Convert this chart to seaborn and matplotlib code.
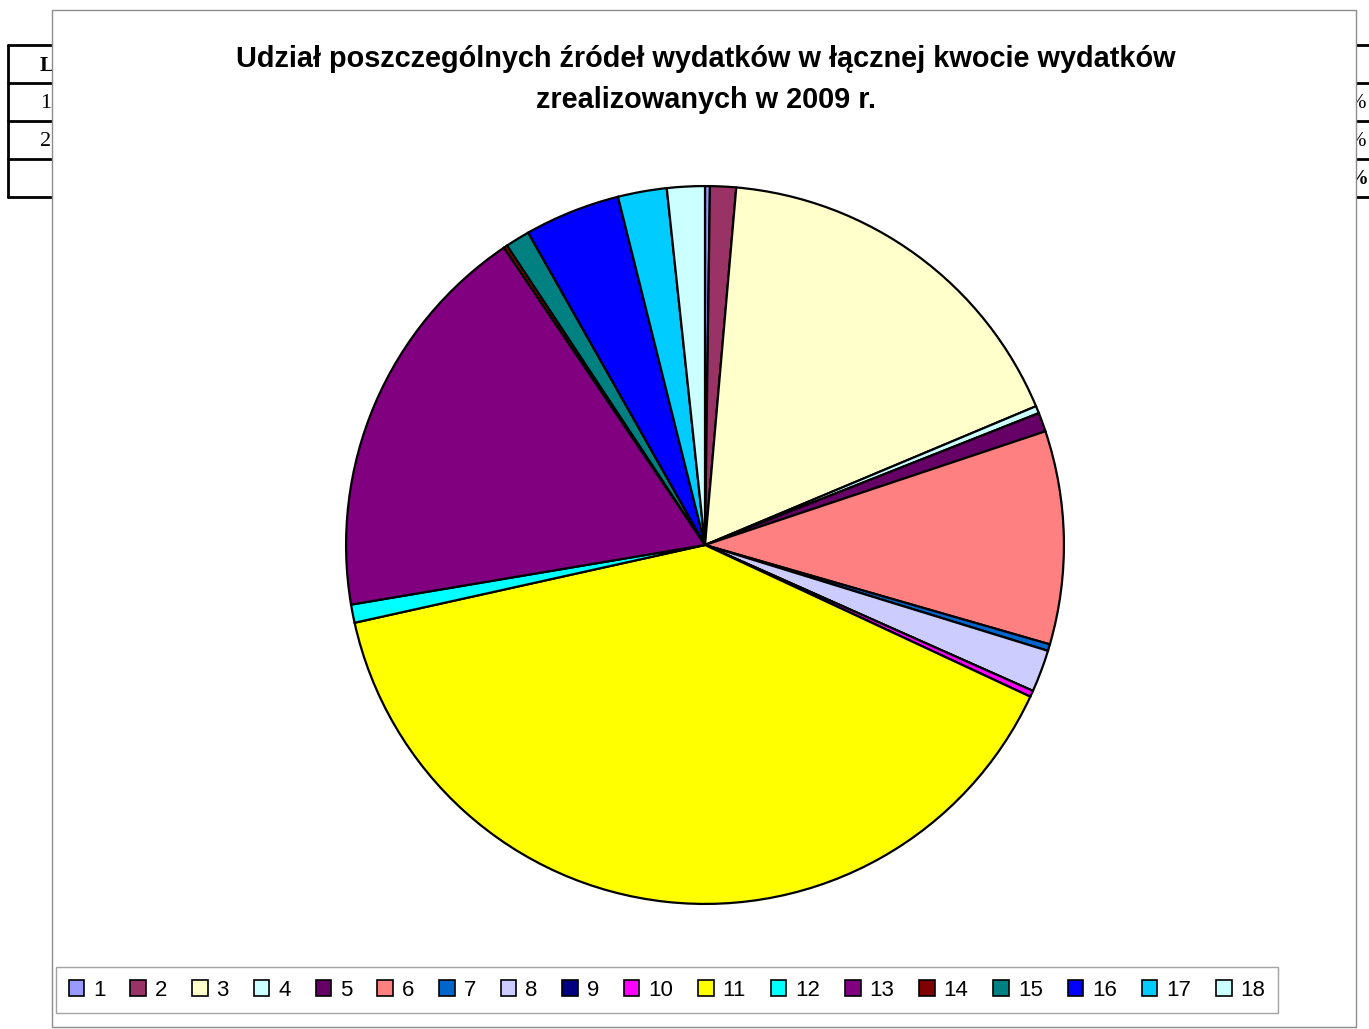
import seaborn as sns
import matplotlib.pyplot as plt
from matplotlib.patches import Patch, Rectangle
from matplotlib.lines import Line2D

# udzialy zrodel wydatkow (%)
labels = [str(i) for i in range(1, 19)]
shares = [0.22, 1.17, 17.3, 0.33, 0.86, 9.6, 0.3, 1.9, 0.0, 0.28,
          39.6, 0.82, 18.2, 0.17, 1.1, 4.3, 2.2, 1.7]
colors = ['#9999FF', '#993366', '#FFFFCC', '#CCFFFF', '#660066', '#FF8080',
          '#0066CC', '#CCCCFF', '#000080', '#FF00FF', '#FFFF00', '#00FFFF',
          '#800080', '#800000', '#008080', '#0000FF', '#00CCFF', '#CCFFFF']
title = "Udział poszczególnych źródeł wydatków w łącznej kwocie wydatków\nzrealizowanych w 2009 r."

sns.set_style('white')
plt.rcParams['font.family'] = ['Liberation Sans', 'DejaVu Sans']
plt.rcParams['text.color'] = 'black'

W, H = 1369, 1029
fig = plt.figure(figsize=(W / 100, H / 100), dpi=100)

def fx(x):
    return x / W

def fy(y):
    return 1 - y / H

# tabela w tle dokumentu (czesciowo zakryta)
for y in [45, 83, 121, 159, 197]:
    fig.add_artist(Line2D([fx(8), fx(60)], [fy(y), fy(y)], color='black', lw=2, zorder=2))
    fig.add_artist(Line2D([fx(1340), fx(1369)], [fy(y), fy(y)], color='black', lw=2, zorder=2))
fig.add_artist(Line2D([fx(8), fx(8)], [fy(45), fy(197)], color='black', lw=2, zorder=2))
for txt, y, w in [("Lp.", 66, 'bold'), ("1.", 103, 'normal'), ("2.", 141, 'normal')]:
    fig.text(fx(40), fy(y), txt, family='Liberation Serif', fontsize=16, fontweight=w,
             ha='left', va='center', zorder=2)
for y, w in [(103, 'normal'), (141, 'normal'), (179, 'bold')]:
    fig.text(fx(1348), fy(y), "%", family='Liberation Serif', fontsize=15, fontweight=w,
             ha='left', va='center', zorder=2)

# obszar wykresu
fig.add_artist(Rectangle((fx(52), fy(1027)), fx(1356) - fx(52), fy(10) - fy(1027),
                         facecolor='white', edgecolor='#8c8c8c', lw=1, zorder=5))

# kolo
R = 360
cx, cy = 705, 545
ax = fig.add_axes([fx(cx - R), fy(cy + R), 2 * R / W, 2 * R / H])
ax.set_zorder(10)
ax.pie(shares, colors=colors, startangle=90, counterclock=False,
       wedgeprops=dict(edgecolor='black', linewidth=1.6))
ax.set_xlim(-1.003, 1.003)
ax.set_ylim(-1.003, 1.003)
ax.set_aspect('equal')
ax.axis('off')

fig.text(fx(706), fy(79.5), title, ha='center', va='center', fontsize=20.8,
         fontweight='bold', linespacing=1.55, color='black', zorder=12)

handles = [Patch(facecolor=c, edgecolor='black', linewidth=1.2) for c in colors]
leg = fig.legend(handles, labels, ncol=18, loc='center',
                 bbox_to_anchor=(fx(667), fy(990)), fontsize=16,
                 frameon=True, fancybox=False, edgecolor='#8c8c8c',
                 handlelength=0.7, handleheight=0.7, handletextpad=0.4,
                 columnspacing=1.12, borderpad=0.55)
leg.get_frame().set_linewidth(1)
leg.set_zorder(11)

fig.savefig('out.png', dpi=100)
